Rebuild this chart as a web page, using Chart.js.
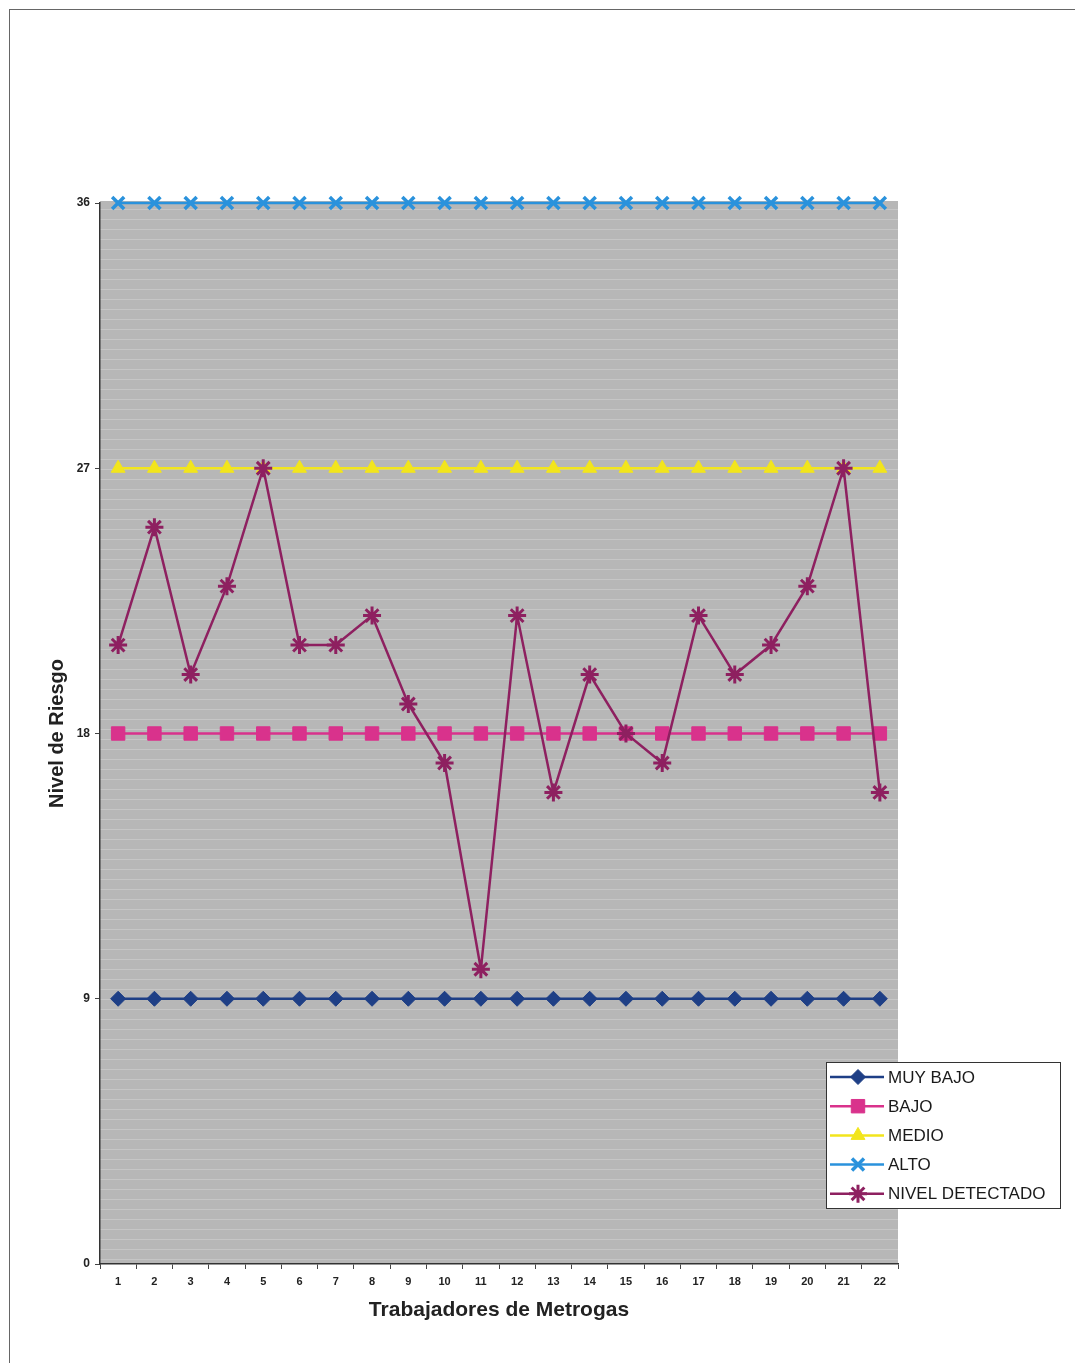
<!DOCTYPE html>
<html>
<head>
<meta charset="utf-8">
<script src="https://cdn.jsdelivr.net/npm/chart.js@4.4.1/dist/chart.umd.min.js"></script>
<style>
  html, body { margin: 0; padding: 0; background: #ffffff; }
  #wrap { position: relative; width: 1075px; height: 1363px; }
  #frame { position: absolute; left: 9px; top: 9px; right: 0; bottom: 0;
           border-left: 1px solid #666; border-top: 1px solid #666; pointer-events: none; }
  canvas { position: absolute; left: 0; top: 0; }
</style>
</head>
<body>
<div id="wrap">
  <canvas id="c" width="1075" height="1363"></canvas>
  <div id="frame"></div>
</div>
<script>
// Workers 1..22 on the x axis
const categories = ['1','2','3','4','5','6','7','8','9','10','11','12','13','14','15','16','17','18','19','20','21','22'];

// Reference risk levels
const muyBajo = [9,9,9,9,9,9,9,9,9,9,9,9,9,9,9,9,9,9,9,9,9,9];
const bajo    = [18,18,18,18,18,18,18,18,18,18,18,18,18,18,18,18,18,18,18,18,18,18];
const medio   = [27,27,27,27,27,27,27,27,27,27,27,27,27,27,27,27,27,27,27,27,27,27];
const alto    = [36,36,36,36,36,36,36,36,36,36,36,36,36,36,36,36,36,36,36,36,36,36];

// Measured level for each worker
const nivelDetectado = [21,25,20,23,27,21,21,22,19,17,10,22,16,20,18,17,22,20,21,23,27,16];

// Y axis ticks
const yTicks = [0, 9, 18, 27, 36];

const FONT = '"Liberation Sans", Arial, Helvetica, sans-serif';

// Grey plot background with light horizontal streaks
const plotBackground = {
  id: 'plotBackground',
  beforeDraw(chart) {
    const {ctx, chartArea: a} = chart;
    ctx.save();
    ctx.fillStyle = '#b7b7b7';
    ctx.fillRect(a.left, a.top - 2, a.right - a.left, a.bottom - a.top + 2);
    ctx.strokeStyle = 'rgba(255,255,255,0.22)';
    ctx.lineWidth = 1;
    for (let y = a.top + 6.5; y < a.bottom; y += 10) {
      ctx.beginPath();
      ctx.moveTo(a.left, y);
      ctx.lineTo(a.right, y);
      ctx.stroke();
    }
    ctx.restore();
  }
};

// Boxed legend at the lower right, overlapping the plot edge
const boxLegend = {
  id: 'boxLegend',
  afterDraw(chart) {
    const {ctx} = chart;
    const x0 = 826, y0 = 1062, w = 234, h = 146;
    ctx.save();
    ctx.fillStyle = '#ffffff';
    ctx.fillRect(x0, y0, w, h);
    ctx.strokeStyle = '#333';
    ctx.lineWidth = 1;
    ctx.strokeRect(x0 + 0.5, y0 + 0.5, w, h);
    ctx.font = '17px ' + FONT;
    ctx.textBaseline = 'middle';
    ctx.textAlign = 'left';
    chart.data.datasets.forEach((ds, i) => {
      const y = y0 + 15 + i * 29.2;
      ctx.strokeStyle = ds.borderColor;
      ctx.lineWidth = 2.5;
      ctx.beginPath();
      ctx.moveTo(x0 + 4, y);
      ctx.lineTo(x0 + 58, y);
      ctx.stroke();
      ctx.fillStyle = ds.pointBackgroundColor;
      ctx.strokeStyle = ds.pointBorderColor;
      ctx.lineWidth = ds.pointBorderWidth;
      Chart.helpers.drawPoint(ctx, {
        pointStyle: ds.pointStyle, radius: ds.pointRadius, rotation: 0,
        borderWidth: ds.pointBorderWidth
      }, x0 + 32, y);
      ctx.fillStyle = '#1a1a1a';
      ctx.fillText(ds.label, x0 + 62, y + 1);
    });
    ctx.restore();
  }
};

function series(label, data, color, style, radius, bw, order) {
  return {
    label, data,
    borderColor: color, backgroundColor: color,
    pointBackgroundColor: color, pointBorderColor: color,
    pointStyle: style, pointRadius: radius, pointHoverRadius: radius,
    pointBorderWidth: bw, borderWidth: 2.5, tension: 0, order, clip: false
  };
}

new Chart(document.getElementById('c'), {
  type: 'line',
  data: {
    labels: categories,
    datasets: [
      series('MUY BAJO', muyBajo, '#1e3f86', 'rectRot', 7.5, 1, 4),
      series('BAJO', bajo, '#d9328c', 'rect', 9.5, 1, 3),
      series('MEDIO', medio, '#f2e51c', 'triangle', 8, 1, 2),
      series('ALTO', alto, '#2a92dc', 'crossRot', 8.5, 3.5, 1),
      series('NIVEL DETECTADO', nivelDetectado, '#8e2060', 'star', 9, 3, 0)
    ]
  },
  options: {
    responsive: false,
    animation: false,
    events: [],
    layout: { padding: { left: 0, top: 203, right: 177, bottom: 40 } },
    plugins: { legend: { display: false }, tooltip: { enabled: false } },
    scales: {
      x: {
        type: 'category',
        offset: true,
        grid: { display: true, drawOnChartArea: false, offset: true, tickLength: 5, color: '#444' },
        border: { display: true, color: '#333', width: 1.5 },
        ticks: { color: '#222', font: { family: FONT, size: 11, weight: 'bold' }, padding: 6, maxRotation: 0, autoSkip: false },
        title: { display: true, text: 'Trabajadores de Metrogas', color: '#222',
                 font: { family: FONT, size: 21, weight: 'bold' }, padding: { top: 12, bottom: 0 } },
        afterFit(scale) { scale.height = 59; }
      },
      y: {
        min: 0, max: 36,
        afterBuildTicks(scale) { scale.ticks = yTicks.map(v => ({ value: v })); },
        grid: { display: true, drawOnChartArea: false, tickLength: 5, color: '#444' },
        border: { display: true, color: '#333', width: 1.5 },
        ticks: { color: '#222', font: { family: FONT, size: 12, weight: 'bold' }, padding: 5 },
        title: { display: true, text: 'Nivel de Riesgo', color: '#222',
                 font: { family: FONT, size: 20, weight: 'bold' }, padding: { top: 45, bottom: 0 } },
        afterFit(scale) { scale.width = 100; }
      }
    }
  },
  plugins: [plotBackground, boxLegend]
});
</script>
</body>
</html>
